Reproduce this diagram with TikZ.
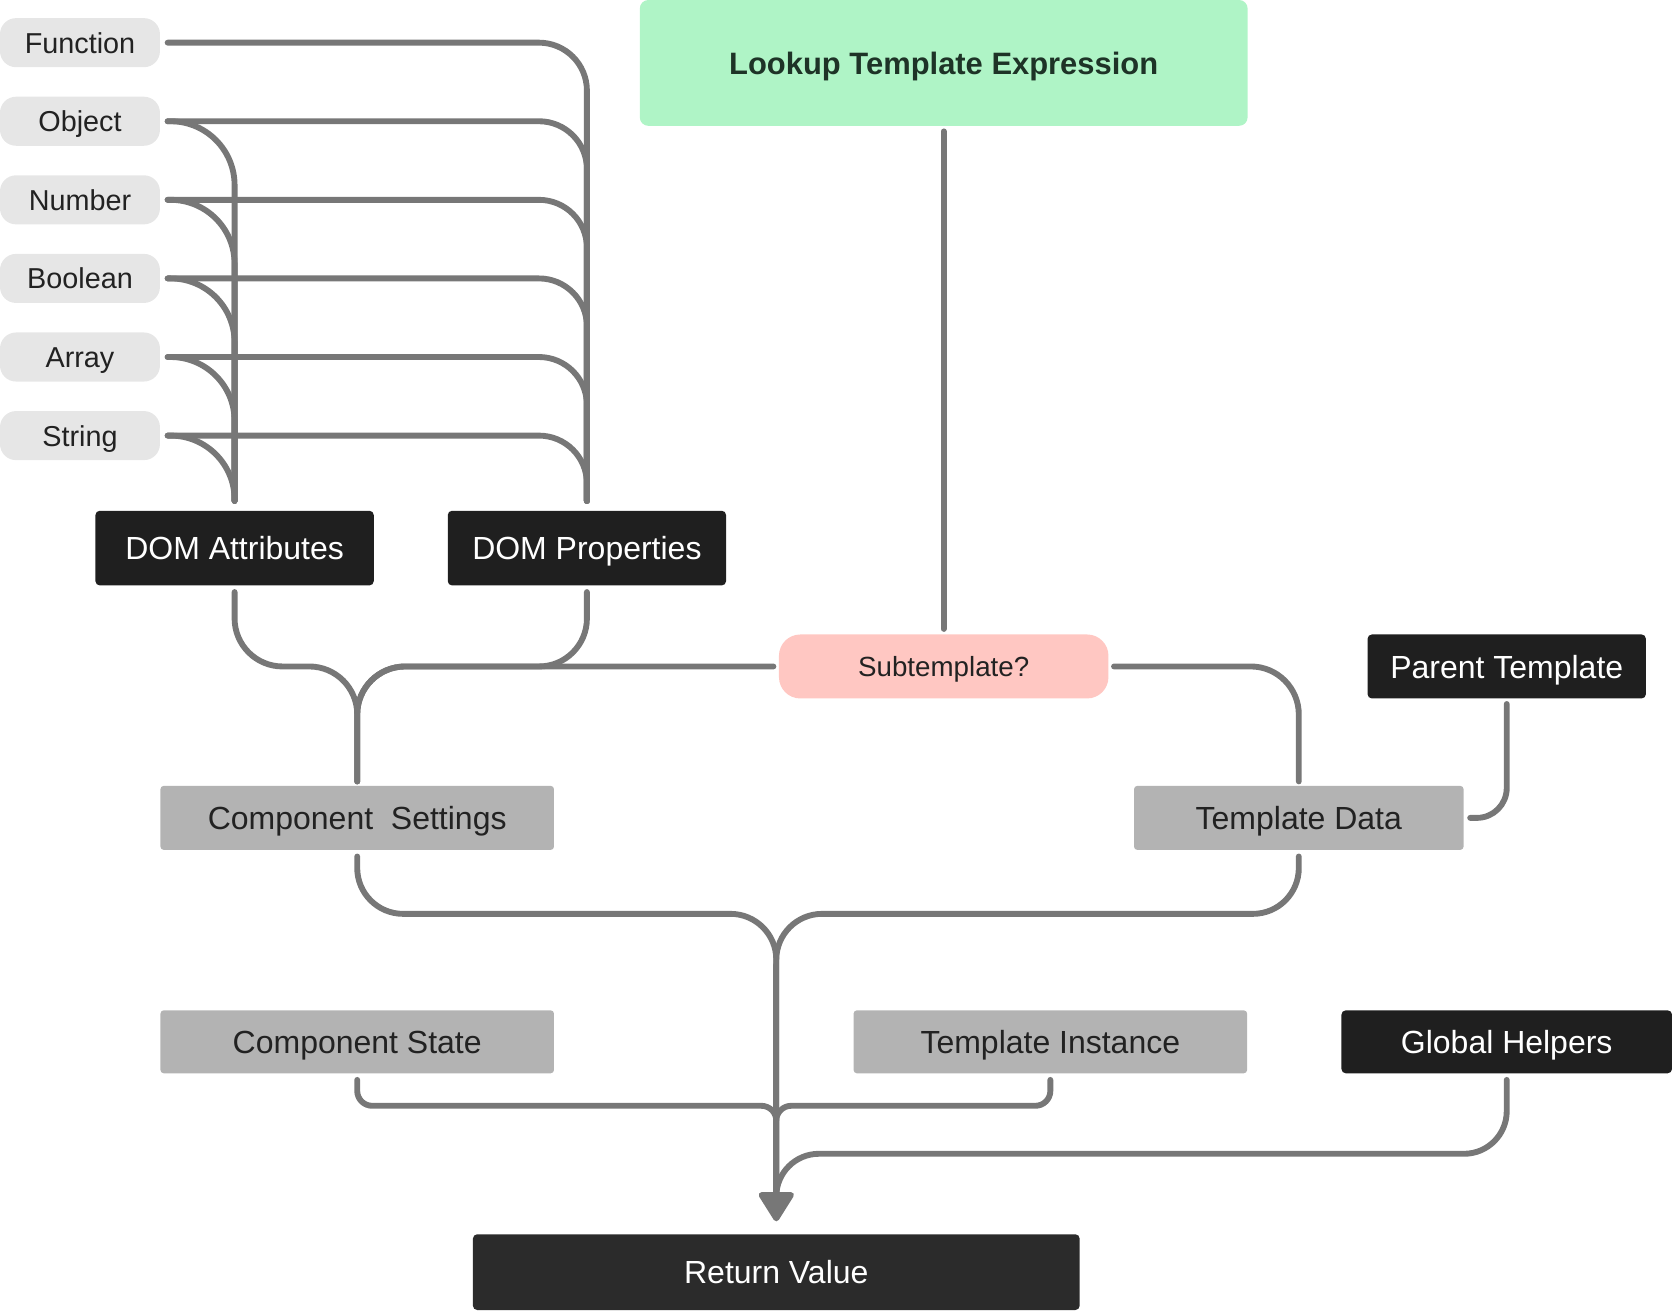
\documentclass[tikz,border=0pt]{standalone}
\usepackage{fontspec}
\setmainfont{Liberation Sans}
\usetikzlibrary{positioning}
\usetikzlibrary{arrows.meta}
\definecolor{linegrey}{HTML}{777777}
\definecolor{pillgrey}{HTML}{E6E6E6}
\definecolor{boxgrey}{HTML}{B3B3B3}
\definecolor{darkbox}{HTML}{1F1F1F}
\definecolor{retbox}{HTML}{2B2B2B}
\definecolor{mint}{HTML}{AFF4C6}
\definecolor{mintink}{HTML}{1E3327}
\definecolor{rose}{HTML}{FFC7C2}
\definecolor{ink}{HTML}{222222}
\tikzset{
pill/.style={
  rectangle,
  rounded corners=15pt,
  fill=pillgrey,
  text=ink,
  minimum width=150pt,
  minimum height=46pt,
  inner sep=0pt,
  text height=19.6pt,
  text depth=0pt,
  font=\fontsize{27}{30}\selectfont
  },
dark/.style={
  rectangle,
  rounded corners=4pt,
  fill=darkbox,
  text=white,
  inner sep=0pt,
  text height=21.8pt,
  text depth=0pt,
  font=\fontsize{30}{34}\selectfont
  },
grey/.style={
  rectangle,
  rounded corners=3pt,
  fill=boxgrey,
  text=ink,
  inner sep=0pt,
  text height=21.8pt,
  text depth=0pt,
  font=\fontsize{30}{34}\selectfont
  },
link/.style={
  draw=linegrey,
  line width=5.5pt,
  line cap=round,
  line join=round
  },
hv/.style={to path={-| (\tikztotarget)}}
}

\begin{document}
\begin{tikzpicture}[x=1pt,y=-1pt,node distance=27.3pt]
            \useasboundingbox (0,0) rectangle (1568,1229);
            \node[pill]  (fn)  at (75,40) {Function};
            \node[pill]  (obj) [below=of fn] {Object};
            \node[pill]  (num) [below=of obj] {Number};
            \node[pill]  (bool) [below=of num] {Boolean};
            \node[pill]  (arr) [below=of bool] {Array};
            \node[pill]  (str) [below=of arr] {String};
            \node[dark, minimum width=261pt, minimum height=70pt] (da) at (220,514) {DOM Attributes};
            \node[dark, minimum width=261pt, minimum height=70pt] (dp) [right=69pt of da] {DOM Properties};
            \node[rectangle, rounded corners=8pt, fill=mint, text=mintink, minimum width=570pt, minimum height=118pt,
                  inner sep=0pt, text height=21.1pt, text depth=0pt,
                  font=\bfseries\fontsize{29}{34}\selectfont] (lk) at (885,59) {Lookup Template Expression};
            \node[rectangle, rounded corners=20pt, fill=rose, text=ink, minimum width=309pt, minimum height=60pt,
                  inner sep=0pt, text height=19pt, text depth=0pt,
                  font=\fontsize{26}{30}\selectfont] (sub) at (885,625) {Subtemplate?};
            \node[dark, minimum width=261pt, minimum height=60pt] (par) at (1413,625) {Parent Template};
            \node[grey, minimum width=369pt, minimum height=60pt] (cs)  at (335,767) {Component~~Settings};
            \node[grey, minimum width=309pt, minimum height=60pt] (td)  at (1218,767) {Template Data};
            \node[grey, minimum width=369pt, minimum height=59pt] (cst) at (335,977) {Component State};
            \node[grey, minimum width=369pt, minimum height=59pt] (ti)  at (985,977) {Template Instance};
            \node[dark, minimum width=310pt, minimum height=59pt] (gh)  at (1413,977) {Global Helpers};
            \node[dark, fill=retbox, minimum width=569pt, minimum height=71pt] (rv) at (728,1193) {Return Value};

            \coordinate (dain) at ([yshift=9pt]da.north);
            \coordinate (dpin) at ([yshift=9pt]dp.north);
            \coordinate (csin) at ([yshift=4pt]cs.north);
            \coordinate (tdin) at ([yshift=4pt]td.north);
            \coordinate (m1) at (728,857);
            \coordinate (m2) at (728,1037);
            \coordinate (m3) at (728,1082);
            \coordinate (st) at (728,905);
            \coordinate (ab) at ([yshift=38pt]rv.north);
            \coordinate (rvin) at ([yshift=12pt]rv.north);

            \path[link]
            ([xshift=7pt]fn.east)   edge [hv, rounded corners=45pt] (dpin)
            ([xshift=7pt]obj.east)  edge [hv, rounded corners=45pt] (dpin)
            ([xshift=7pt]num.east)  edge [hv, rounded corners=45pt] (dpin)
            ([xshift=7pt]bool.east) edge [hv, rounded corners=45pt] (dpin)
            ([xshift=7pt]arr.east)  edge [hv, rounded corners=45pt] (dpin)
            ([xshift=7pt]str.east)  edge [hv, rounded corners=45pt] (dpin)
            ([xshift=7pt]obj.east)  edge [hv, rounded corners=60pt] (dain)
            ([xshift=7pt]num.east)  edge [hv, rounded corners=60pt] (dain)
            ([xshift=7pt]bool.east) edge [hv, rounded corners=60pt] (dain)
            ([xshift=7pt]arr.east)  edge [hv, rounded corners=60pt] (dain)
            ([xshift=7pt]str.east)  edge [hv, rounded corners=60pt] (dain)
            ;

            \draw[link] ([yshift=-5pt]lk.south) -- ([yshift=5pt]sub.north);
            \draw[link, rounded corners=45pt] ([yshift=-6pt]da.south) |- (csin |- sub.west) -- (csin);
            \draw[link, rounded corners=45pt] ([yshift=-6pt]dp.south) |- (csin |- sub.west) -- (csin);
            \draw[link, rounded corners=45pt] ([xshift=-5pt]sub.west) -| (csin);
            \draw[link, rounded corners=45pt] ([xshift=5pt]sub.east) -| (tdin);
            \draw[link, rounded corners=28pt] ([yshift=-5pt]par.south) |- ([xshift=6pt]td.east);

            \draw[link, rounded corners=43pt] ([yshift=-6pt]cs.south) |- (m1) -- (ab);
            \draw[link, rounded corners=43pt] ([yshift=-6pt]td.south) |- (m1) -- (ab);
            \draw[link] ([yshift=-6pt]cst.south) [rounded corners=14pt] |- (m2) [rounded corners=40pt] -- (ab);
            \draw[link] ([yshift=-6pt]ti.south) [rounded corners=14pt] |- (m2) [rounded corners=40pt] -- (ab);
            \draw[link, rounded corners=40pt] ([yshift=-6pt]gh.south) |- (m3) -- (ab);
            \draw[link, -{Triangle[length=30pt, width=36pt, round]}] (st) -- (rvin);
        \end{tikzpicture}
\end{document}
